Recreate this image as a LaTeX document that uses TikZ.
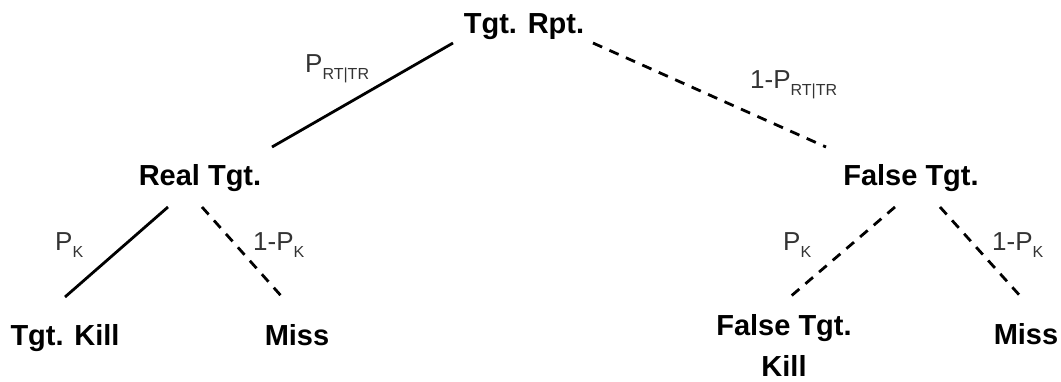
\documentclass[tikz,border=0pt]{standalone}
\usepackage{fontspec}
\setmainfont{Liberation Sans}
\newcommand{\probsub}[1]{\raisebox{-7pt}{\fontsize{16}{16}\selectfont #1}}
\begin{document}
\begin{tikzpicture}[x=1pt,y=-1pt,
  title/.style={font=\fontsize{29}{41}\selectfont\bfseries, inner sep=0pt, anchor=base, align=center},
  prob/.style={font=\fontsize{26}{30}\selectfont, text=black!80, inner sep=0pt, anchor=base west},
  branch/.style={line width=2.8pt},
  dashbranch/.style={line width=2.8pt, dash pattern=on 10pt off 8pt}]
\useasboundingbox (0,0) rectangle (1061,381);
% nodes
\node[title] (rpt) at (524,33) {Tgt. Rpt.};
\node[title] (real) at (200,185) {Real Tgt.};
\node[title] (false) at (911,185) {False Tgt.};
\node[title] (kill) at (65,345) {Tgt. Kill};
\node[title] (miss1) at (297,345) {Miss};
\node[title, anchor=north] (fkill) at (784,314) {False Tgt.\\Kill};
\node[title] (miss2) at (1026,344) {Miss};
% connector ends
\coordinate (rptL) at (453,43);
\coordinate (rptR) at (593,43);
\coordinate (realT) at (272,147);
\coordinate (falseT) at (826,147);
\coordinate (realL) at (168,207);
\coordinate (realR) at (202,207);
\coordinate (killT) at (65,297);
\coordinate (miss1T) at (283,298);
\coordinate (falseL) at (895,207);
\coordinate (falseR) at (940,207);
\coordinate (fkillT) at (790,297);
\coordinate (miss2T) at (1022,298);
% connectors
\draw[branch] (rptL) -- (realT);
\draw[dashbranch] (rptR) -- (falseT);
\draw[branch] (realL) -- (killT);
\draw[dashbranch] (realR) -- (miss1T);
\draw[dashbranch] (falseL) -- (fkillT);
\draw[dashbranch] (falseR) -- (miss2T);
% labels
\node[prob] (l1) at (305,72) {P\probsub{RT|TR}};
\node[prob] (l2) at (750,88) {1-P\probsub{RT|TR}};
\node[prob] (l3) at (55,250) {P\probsub{K}};
\node[prob] (l4) at (253,250) {1-P\probsub{K}};
\node[prob] (l5) at (783,250) {P\probsub{K}};
\node[prob] (l6) at (992,250) {1-P\probsub{K}};
\end{tikzpicture}
\end{document}
